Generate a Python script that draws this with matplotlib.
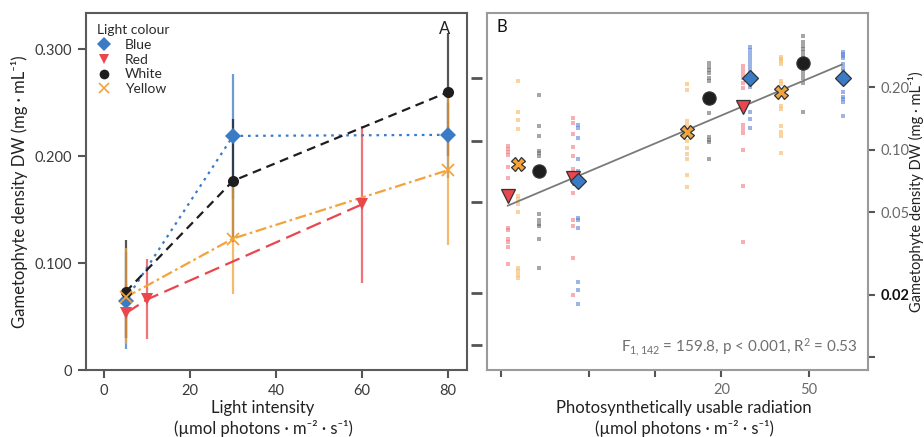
import matplotlib
matplotlib.use("Agg")
import matplotlib.pyplot as plt
from matplotlib.lines import Line2D
import numpy as np

plt.rcParams['font.family'] = ['Lato', 'DejaVu Sans']
plt.rcParams['mathtext.fontset'] = 'custom'
plt.rcParams['mathtext.rm'] = 'Lato'
plt.rcParams['mathtext.it'] = 'Lato:italic'
plt.rcParams['mathtext.bf'] = 'Lato:bold'

# ---------------- data: panel A ----------------
colours = ['Blue', 'Red', 'White', 'Yellow']
a_x = {
    'Blue':   [5, 30, 80],
    'Red':    [5, 10, 60],
    'White':  [5, 30, 80],
    'Yellow': [5, 30, 80],
}
a_mean = {
    'Blue':   [0.065, 0.219, 0.220],
    'Red':    [0.053, 0.066, 0.155],
    'White':  [0.073, 0.177, 0.260],
    'Yellow': [0.068, 0.123, 0.187],
}
a_low = {
    'Blue':   [0.020, 0.160, 0.180],
    'Red':    [0.030, 0.029, 0.081],
    'White':  [0.030, 0.120, 0.200],
    'Yellow': [0.024, 0.071, 0.117],
}
a_high = {
    'Blue':   [0.110, 0.277, 0.250],
    'Red':    [0.080, 0.104, 0.228],
    'White':  [0.122, 0.235, 0.315],
    'Yellow': [0.114, 0.180, 0.255],
}

# ---------------- data: panel B ----------------
b_colour = ['Red', 'Yellow', 'White', 'Red', 'Blue', 'Yellow',
            'White', 'Red', 'Blue', 'Yellow', 'White', 'Blue']
b_pur = [2.15, 2.38, 2.97, 4.23, 4.46, 14.0, 17.5, 25.2, 27.0, 37.4, 47.0, 71.6]
b_mean = [0.060, 0.085, 0.079, 0.073, 0.071, 0.122,
          0.177, 0.160, 0.223, 0.191, 0.263, 0.221]
b_reps = [
    [0.104, 0.101, 0.098, 0.094, 0.083, 0.073, 0.042, 0.041, 0.037, 0.036, 0.034, 0.028],
    [0.214, 0.153, 0.139, 0.126, 0.060, 0.058, 0.055, 0.050, 0.027, 0.026, 0.025, 0.024],
    [0.183, 0.130, 0.117, 0.099, 0.096, 0.093, 0.049, 0.046, 0.044, 0.043, 0.037, 0.027],
    [0.142, 0.135, 0.119, 0.103, 0.093, 0.081, 0.070, 0.062, 0.046, 0.043, 0.030, 0.020],
    [0.132, 0.127, 0.114, 0.090, 0.079, 0.069, 0.047, 0.046, 0.042, 0.023, 0.021, 0.018],
    [0.207, 0.194, 0.138, 0.132, 0.126, 0.118, 0.110, 0.102, 0.095, 0.090, 0.076, 0.066],
    [0.263, 0.252, 0.244, 0.236, 0.223, 0.214, 0.177, 0.150, 0.115, 0.111, 0.109, 0.090],
    [0.255, 0.244, 0.233, 0.221, 0.209, 0.198, 0.132, 0.126, 0.121, 0.100, 0.067, 0.036],
    [0.314, 0.304, 0.291, 0.278, 0.266, 0.255, 0.244, 0.211, 0.200, 0.152, 0.141, 0.127],
    [0.281, 0.275, 0.269, 0.258, 0.214, 0.207, 0.162, 0.157, 0.130, 0.122, 0.117, 0.096],
    [0.355, 0.332, 0.318, 0.307, 0.297, 0.284, 0.272, 0.244, 0.233, 0.223, 0.211, 0.152],
    [0.297, 0.291, 0.284, 0.278, 0.258, 0.249, 0.239, 0.191, 0.179, 0.175, 0.171, 0.145],
]
fit_x = [2.15, 70.3]
fit_y = [0.0538, 0.2577]
stats_text = r"F$_{\mathrm{1,142}}$ = 159.8, p < 0.001, R$^{\mathrm{2}}$ = 0.53"

a_xticks = [0, 20, 40, 60, 80]
a_yticks = [0.0, 0.1, 0.2, 0.3]
a_yticklabels = ['0', '0.100', '0.200', '0.300']
b_xticks = [2, 5, 10, 20, 50]
b_xticklabels = ['', '', '', '20', '50']
b_yticks = [0.01, 0.02, 0.05, 0.10, 0.20]
b_yticklabels = ['', '0.02', '0.05', '0.10', '0.20']
b_float_ticks = [0.0115, 0.0204, 0.0563, 0.110, 0.223]

ylabel = "Gametophyte density DW (mg · mL⁻¹)"

# ---------------- styles ----------------
col = {'Blue': '#3b7bc6', 'Red': '#e9464d', 'White': '#1e1e1e', 'Yellow': '#f4a33b'}
rep_col = {'Blue': '#5b82d6', 'Red': '#f07a80', 'White': '#6b6b6b', 'Yellow': '#f6b865'}
ls = {'Blue': (0, (1.2, 2.2)), 'Red': (0, (7, 3)), 'White': (0, (4, 2.6)),
      'Yellow': (0, (5, 1.6, 1.2, 1.6))}
mk_a = {'Blue': 'D', 'Red': 'v', 'White': 'o', 'Yellow': 'x'}
ms_a = {'Blue': 8, 'Red': 8.5, 'White': 8, 'Yellow': 8}
mk_b = {'Blue': 'D', 'Red': 'v', 'White': 'o', 'Yellow': 'X'}
ms_b = {'Blue': 8.5, 'Red': 10, 'White': 9.5, 'Yellow': 10}

fig = plt.figure(figsize=(9.24, 4.37), dpi=100)
axA = fig.add_axes([86/924, 67/437, 381/924, 357/437])
axB = fig.add_axes([487/924, 67/437, 381/924, 357/437])

# ---------------- panel A ----------------
for c in colours:
    x = np.array(a_x[c]); m = np.array(a_mean[c])
    lo = np.array(a_low[c]); hi = np.array(a_high[c])
    axA.errorbar(x, m, yerr=[m - lo, hi - m], fmt='none', ecolor=col[c],
                 elinewidth=1.6, capsize=0, alpha=0.75, zorder=2)
for c in colours:
    axA.plot(a_x[c], a_mean[c], linestyle=ls[c], color=col[c], lw=1.6, zorder=3)
for c in colours:
    axA.plot(a_x[c], a_mean[c], linestyle='none', marker=mk_a[c], ms=ms_a[c],
             color=col[c], mew=1.3 if c == 'Yellow' else 0, zorder=4)

axA.set_xlim(-4.2, 84.4)
axA.set_ylim(0, 0.334)
axA.set_xticks(a_xticks)
axA.set_yticks(a_yticks)
axA.set_yticklabels(a_yticklabels)
axA.tick_params(direction='out', length=6, width=1.5, color='#555555',
                labelsize=10.5, labelcolor='#3a3a3a', pad=4)
for s in axA.spines.values():
    s.set_color('#5a5a5a'); s.set_linewidth(1.5)
axA.set_ylabel(ylabel, fontsize=12, color='#222222')
axA.yaxis.set_label_coords(-0.153, 0.5)
axA.set_xlabel("Light intensity\n(µmol photons · m⁻² · s⁻¹)", fontsize=12,
               color='#222222', linespacing=1.25)
axA.xaxis.set_label_coords(0.465, -0.085)
axA.text(0.94, 0.955, 'A', transform=axA.transAxes, ha='center', va='center',
         fontsize=12, color='#222222')

handles = [Line2D([], [], ls='none', marker=mk_a[c], color=col[c], ms=7,
                  mew=1.2 if c == 'Yellow' else 0) for c in colours]
leg = axA.legend(handles, colours, title='Light colour', loc='upper left',
                 frameon=False, fontsize=10, title_fontsize=10,
                 handlelength=1.0, handletextpad=1.0, labelspacing=0.2,
                 borderaxespad=0.5, borderpad=0.3, alignment='left')
for t in leg.get_texts():
    t.set_color('#2a2a2a')
leg.get_title().set_color('#2a2a2a')

# ---------------- panel B ----------------
axB.set_xscale('log')
axB.set_yscale('log')
for i, c in enumerate(b_colour):
    axB.plot([b_pur[i]] * len(b_reps[i]), b_reps[i], linestyle='none', marker='s',
             ms=2.3, color=rep_col[c], alpha=0.6, mew=0, zorder=2)
axB.plot(fit_x, fit_y, color='#7a7a7a', lw=1.3, zorder=3)
for i, c in enumerate(b_colour):
    axB.plot(b_pur[i], b_mean[i], linestyle='none', marker=mk_b[c], ms=ms_b[c],
             markerfacecolor=col[c], markeredgecolor='#333333', mew=0.9, zorder=4)

axB.set_xlim(1.73, 92.5)
axB.set_ylim(0.00867, 0.457)
axB.xaxis.set_minor_locator(matplotlib.ticker.NullLocator())
axB.yaxis.set_minor_locator(matplotlib.ticker.NullLocator())
axB.set_xticks(b_xticks)
axB.set_xticklabels(b_xticklabels)
axB.set_yticks(b_yticks)
axB.set_yticklabels(b_yticklabels)
axB.yaxis.tick_right()
axB.tick_params(axis='both', direction='out', length=5, width=1.5, color='#555555',
                labelsize=10.5, labelcolor='#6a6a6a', pad=4)
axB.get_yticklabels()[1].set_color('#111111')
axB.get_yticklabels()[1].set_fontweight('bold')
for s in axB.spines.values():
    s.set_color('#9a9a9a'); s.set_linewidth(1.5)
axB.yaxis.set_label_position('right')
axB.set_ylabel(ylabel, fontsize=10.5, color='#222222', rotation=90)
axB.yaxis.set_label_coords(1.106, 0.5)
axB.set_xlabel("Photosynthetically usable radiation\n(µmol photons · m⁻² · s⁻¹)",
               fontsize=12, color='#222222', linespacing=1.25)
axB.xaxis.set_label_coords(0.517, -0.085)
axB.text(0.026, 0.962, 'B', transform=axB.transAxes, ha='left', va='center',
         fontsize=12, color='#111111')
axB.text(0.974, 0.064, stats_text, transform=axB.transAxes, ha='right', va='center',
         fontsize=11, color='#707070')

sec = axB.secondary_yaxis(-0.012)
sec.spines['left'].set_visible(False)
sec.set_yticks(b_float_ticks)
sec.set_yticklabels([''] * len(b_float_ticks))
sec.yaxis.set_minor_locator(matplotlib.ticker.NullLocator())
sec.tick_params(axis='y', direction='out', length=8, width=2, color='#555555')

fig.savefig('out.png', dpi=100)
